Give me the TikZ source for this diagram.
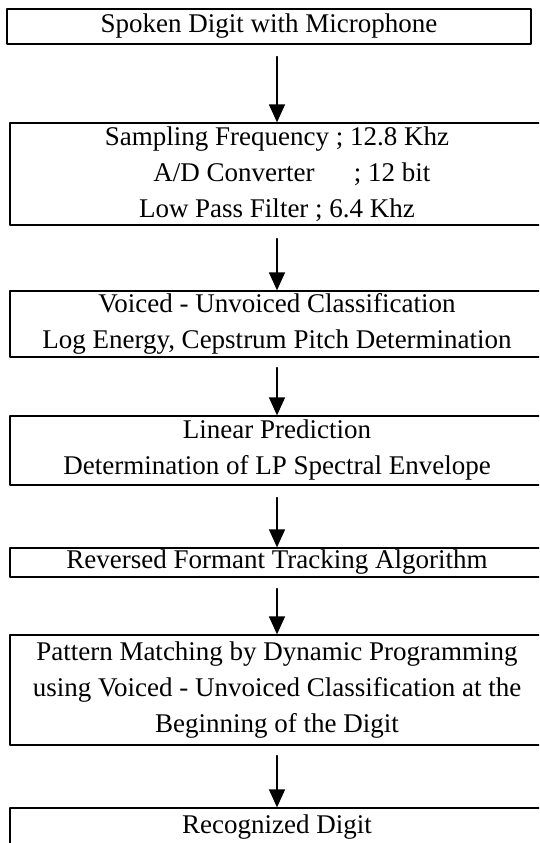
\documentclass[tikz,border=0pt]{standalone}
\usepackage{fontspec}
\setmainfont{Liberation Serif}
\usepackage{tikz}
\usetikzlibrary{arrows.meta,calc}
\tikzset{stepbox/.style={draw,line width=1.3pt,inner xsep=0pt,inner ysep=0pt,align=center,font=\fontsize{27}{36}\selectfont},
flow/.style={line width=1.4pt,-{Triangle[width=16pt,length=18pt]}}}

\begin{document}
\begin{tikzpicture}[line cap=round,line join=round,x=1pt,y=1pt]
\useasboundingbox (0,0) rectangle (539,-843);
\clip (0,0) rectangle (539,-843);
\node[stepbox,minimum width=524pt,minimum height=35pt] (spoken) at (269,-26.5) {Spoken Digit with Microphone};
\node[stepbox,minimum width=534pt,minimum height=102pt] (sampling) at (277,-174) {Sampling Frequency ; 12.8 Khz\\\hspace*{1.1em}A/D Converter\hspace{1.2em} ; 12 bit\\Low Pass Filter ; 6.4 Khz};
\node[stepbox,minimum width=534pt,minimum height=66pt] (voicing) at (277,-324) {Voiced - Unvoiced Classification\\Log Energy, Cepstrum Pitch Determination};
\node[stepbox,minimum width=534pt,minimum height=69pt] (lpc) at (277,-450.5) {Linear Prediction\\Determination of LP Spectral Envelope};
\node[stepbox,minimum width=534pt,minimum height=29pt] (formant) at (277,-562.5) {Reversed Formant Tracking Algorithm};
\node[stepbox,minimum width=534pt,minimum height=110pt] (matching) at (277,-690) {Pattern Matching by Dynamic Programming\\using Voiced - Unvoiced Classification at the\\Beginning of the Digit};
\node[stepbox,minimum width=534pt,minimum height=38pt] (digit) at (277,-827) {Recognized Digit};
\draw[flow] ($(spoken.south -| sampling.north)+(0,-12)$) -- (sampling.north);
\draw[flow] ($(sampling.south)+(0,-13)$) -- (voicing.north);
\draw[flow] ($(voicing.south)+(0,-10)$) -- (lpc.north);
\draw[flow] ($(lpc.south)+(0,-12)$) -- (formant.north);
\draw[flow] ($(formant.south)+(0,-11)$) -- (matching.north);
\draw[flow] ($(matching.south)+(0,-10)$) -- (digit.north);
\end{tikzpicture}
\end{document}
